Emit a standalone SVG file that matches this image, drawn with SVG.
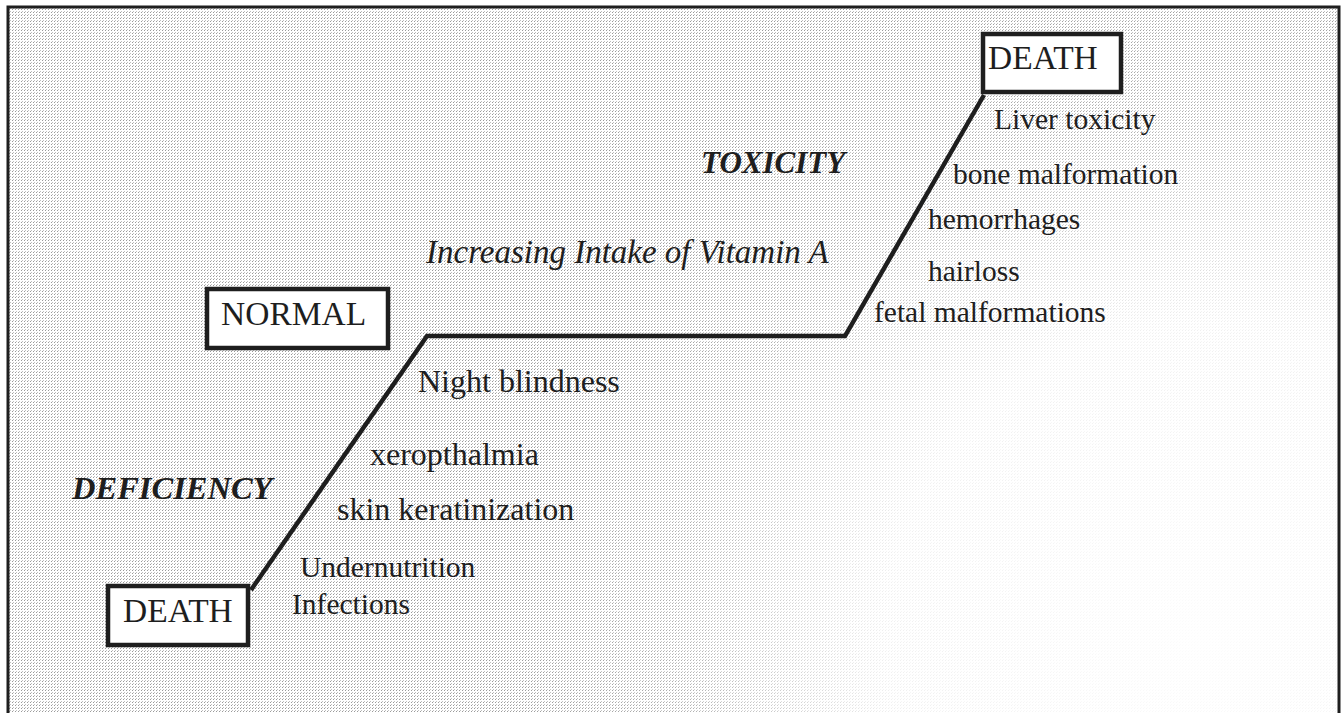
<svg xmlns="http://www.w3.org/2000/svg" width="1344" height="713" viewBox="0 0 1344 713">
  <defs>
    <pattern id="dots" width="3" height="3" patternUnits="userSpaceOnUse">
      <rect x="0" y="0" width="1" height="1" fill="#9a9a9a"/>
      <rect x="1" y="2" width="1" height="1" fill="#c0c0c0"/>
    </pattern>
    <radialGradient id="fade" cx="1200" cy="640" r="700" gradientUnits="userSpaceOnUse">
      <stop offset="0" stop-color="#ffffff" stop-opacity="0.97"/>
      <stop offset="0.45" stop-color="#ffffff" stop-opacity="0.85"/>
      <stop offset="0.75" stop-color="#ffffff" stop-opacity="0.2"/>
      <stop offset="1" stop-color="#ffffff" stop-opacity="0"/>
    </radialGradient>
  </defs>
  <style>
    .box { fill: #ffffff; stroke: #1e1e1e; stroke-width: 4.5; }
    .lbl { font-family: "Liberation Serif", "Times New Roman", serif; font-size: 29.5px; fill: #1e1e1e; }
    .lbl-l { font-family: "Liberation Serif", "Times New Roman", serif; font-size: 32px; fill: #1e1e1e; }
    .box-t { font-family: "Liberation Serif", "Times New Roman", serif; font-size: 33.5px; fill: #1e1e1e; }
    .head { font-family: "Liberation Serif", "Times New Roman", serif; font-size: 31px; font-weight: bold; font-style: italic; fill: #1e1e1e; }
    .ital { font-family: "Liberation Serif", "Times New Roman", serif; font-size: 33px; font-style: italic; fill: #1e1e1e; }
    .curve { fill: none; stroke: #1e1e1e; stroke-width: 4.5; stroke-linejoin: miter; }
  </style>
  <rect x="0" y="0" width="1344" height="713" fill="#ffffff"/>
  <rect x="8" y="7" width="1331" height="720" fill="url(#dots)"/>
  <rect x="8" y="7" width="1331" height="720" fill="url(#fade)"/>
  <rect x="8" y="7" width="1331" height="720" fill="none" stroke="#1e1e1e" stroke-width="3"/>

  <g id="connectors">
    <polyline class="curve" points="251,590 427,336 845,336 984,95"/>
  </g>

  <g id="death-top">
    <rect class="box" x="983" y="34" width="138" height="58"/>
    <text class="box-t" x="988" y="69">DEATH</text>
  </g>
  <g id="normal">
    <rect class="box" x="207" y="289" width="181" height="59"/>
    <text class="box-t" x="221" y="325">NORMAL</text>
  </g>
  <g id="death-bottom">
    <rect class="box" x="108" y="586" width="140" height="59"/>
    <text class="box-t" x="123" y="622">DEATH</text>
  </g>

  <g id="toxicity">
    <text class="head" x="701" y="173">TOXICITY</text>
    <text class="lbl" x="994" y="129">Liver toxicity</text>
    <text class="lbl" x="953" y="184">bone malformation</text>
    <text class="lbl" x="928" y="229">hemorrhages</text>
    <text class="lbl" x="928" y="281">hairloss</text>
    <text class="lbl" x="874" y="322">fetal malformations</text>
  </g>
  <g id="axis-label">
    <text class="ital" x="426" y="263">Increasing Intake of Vitamin A</text>
  </g>
  <g id="deficiency">
    <text class="head" x="72" y="499" style="font-size:32.5px">DEFICIENCY</text>
    <text class="lbl-l" x="418" y="392">Night blindness</text>
    <text class="lbl-l" x="370" y="465">xeropthalmia</text>
    <text class="lbl-l" x="337" y="520">skin keratinization</text>
    <text class="lbl" x="300" y="577">Undernutrition</text>
    <text class="lbl" x="292" y="614">Infections</text>
  </g>
</svg>
